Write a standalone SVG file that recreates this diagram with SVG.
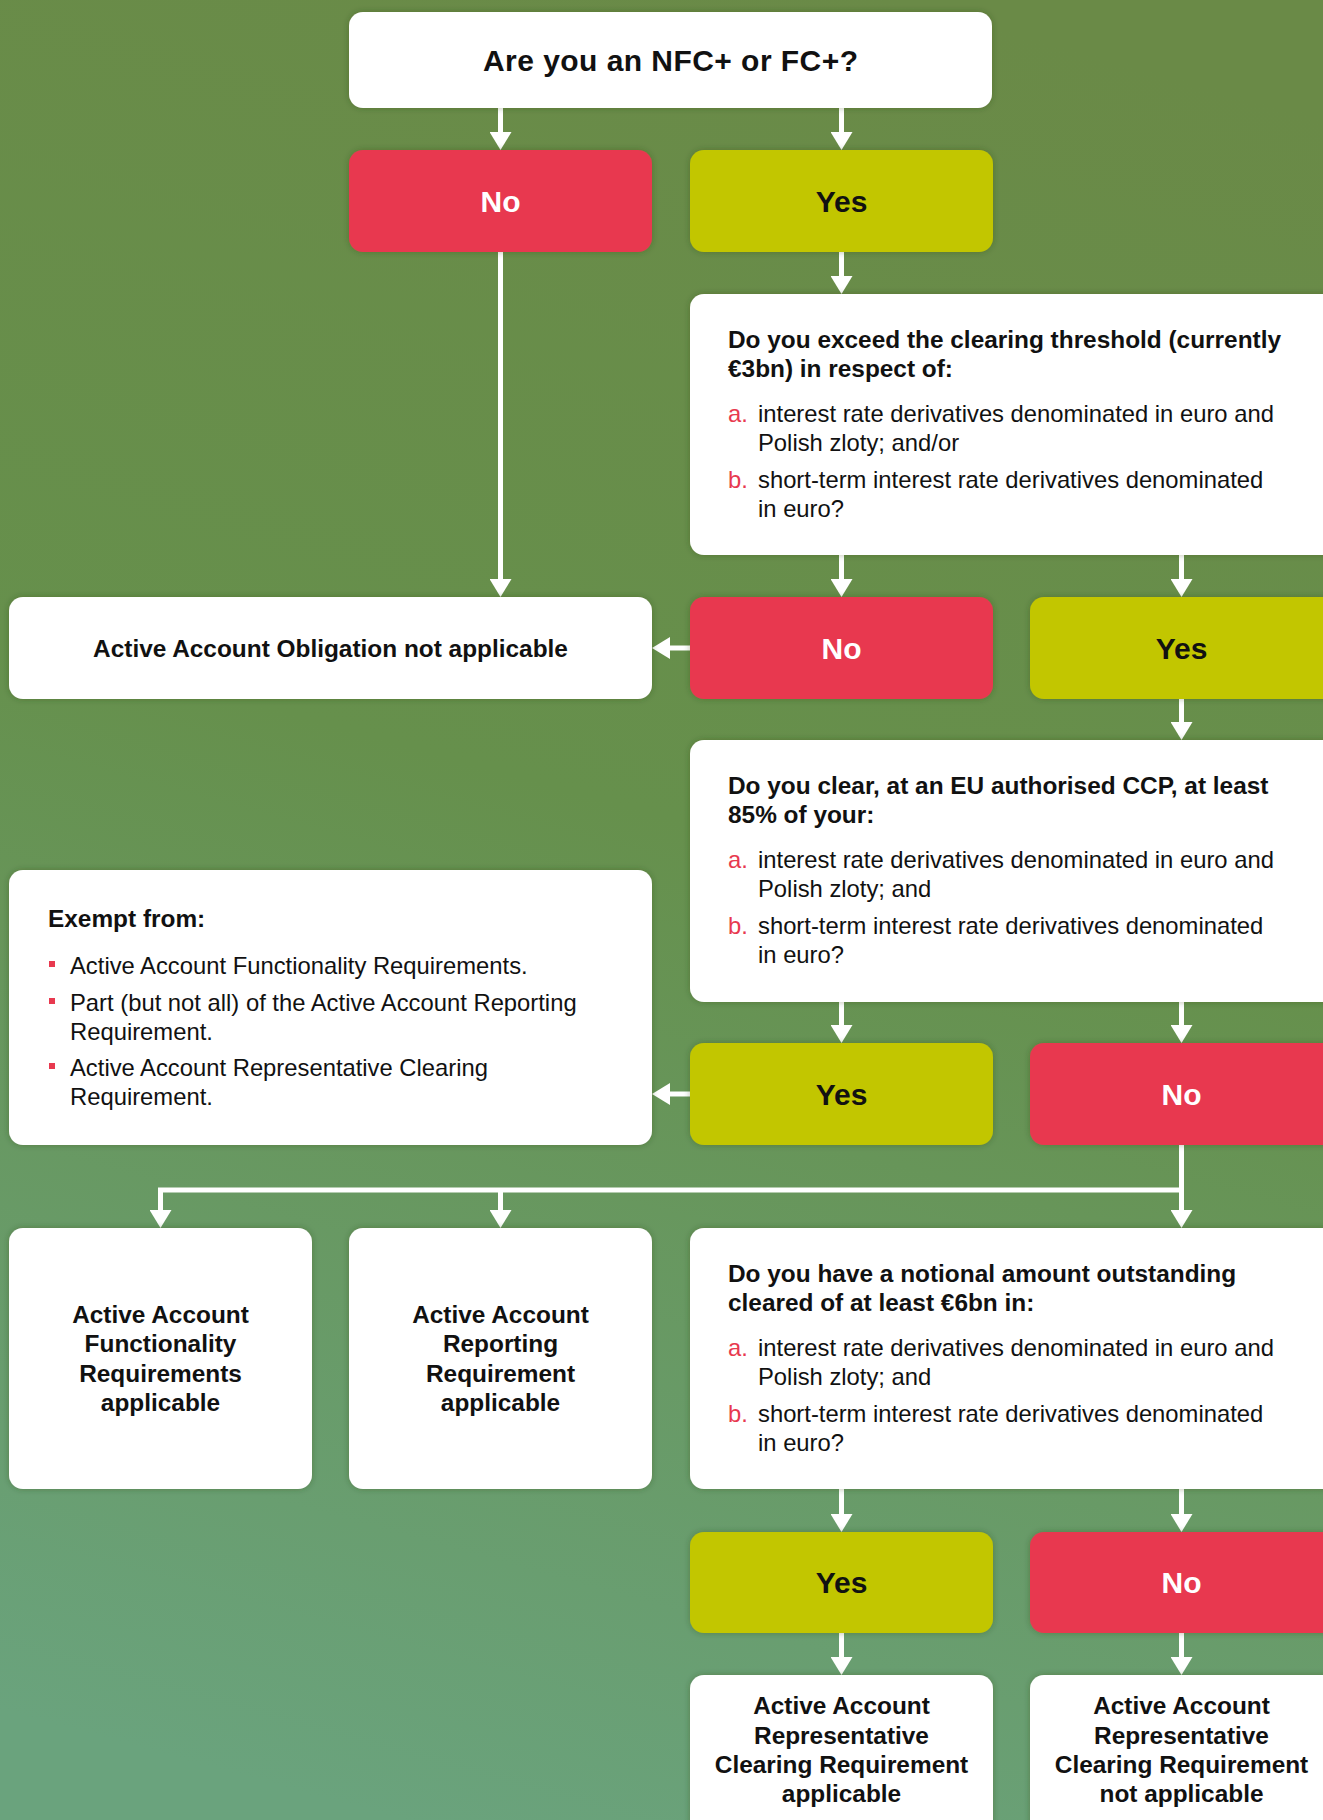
<svg xmlns="http://www.w3.org/2000/svg" width="1323" height="1820" viewBox="0 0 1323 1820">
<defs>
<linearGradient id="bg" gradientUnits="userSpaceOnUse" x1="900" y1="0" x2="400" y2="1820">
<stop offset="0" stop-color="#6a8a47"/>
<stop offset="0.45" stop-color="#66904c"/>
<stop offset="1" stop-color="#6aa37d"/>
</linearGradient>
<filter id="sh" x="-10%" y="-10%" width="120%" height="120%">
<feDropShadow dx="0" dy="0" stdDeviation="3" flood-color="#2a3a20" flood-opacity="0.35"/>
</filter>
<marker id="ah" markerUnits="userSpaceOnUse" markerWidth="18" markerHeight="22" refX="8" refY="11" orient="auto">
<path d="M0,0 L18,11 L0,22 z" fill="#ffffff"/>
</marker>
<style>
.w{fill:#ffffff;filter:url(#sh)}
.r{fill:#e8394f;filter:url(#sh)}
.y{fill:#c2c600;filter:url(#sh)}
text{font-family:"Liberation Sans",Arial,sans-serif;fill:#111111}
.t{font-size:30px;font-weight:bold;text-anchor:middle}
.tw{fill:#ffffff}
.h{font-size:24.4px;font-weight:bold}
.hc{font-size:24.4px;font-weight:bold;text-anchor:middle}
.p{font-size:23.8px}
.lab{font-size:23.8px;fill:#e8394f}
.bul{fill:#e8394f}
.c{fill:none;stroke:#ffffff;stroke-width:5;marker-end:url(#ah)}
</style>
</defs>
<rect x="0" y="0" width="1323" height="1820" fill="url(#bg)"/>

<g id="connectors">
<path class="c" d="M500.5,108 V140"/>
<path class="c" d="M841.5,108 V140"/>
<path class="c" d="M500.5,252 V587"/>
<path class="c" d="M841.5,252 V284"/>
<path class="c" d="M841.5,555 V587"/>
<path class="c" d="M1181.5,555 V587"/>
<path class="c" d="M690,648 H662"/>
<path class="c" d="M1181.5,699 V730"/>
<path class="c" d="M841.5,1002 V1033"/>
<path class="c" d="M1181.5,1002 V1033"/>
<path class="c" d="M690,1094 H662"/>
<path class="c" d="M1181.5,1145 V1218"/>
<path class="c" d="M1181.5,1190 H160.5 V1218"/>
<path class="c" d="M500.5,1190 V1218"/>
<path class="c" d="M841.5,1489 V1522"/>
<path class="c" d="M1181.5,1489 V1522"/>
<path class="c" d="M841.5,1633 V1665"/>
<path class="c" d="M1181.5,1633 V1665"/>
</g>

<g id="q0">
<rect class="w" x="349" y="12" width="643" height="96" rx="14"/>
<text class="t" x="670.5" y="71" textLength="375">Are you an NFC+ or FC+?</text>
</g>
<g id="no1">
<rect class="r" x="349" y="150" width="303" height="102" rx="14"/>
<text class="t tw" x="500.5" y="212">No</text>
</g>
<g id="yes1">
<rect class="y" x="690" y="150" width="303" height="102" rx="14"/>
<text class="t" x="841.5" y="212">Yes</text>
</g>

<g id="q1">
<rect class="w" x="690" y="294" width="680" height="261" rx="14"/>
<text class="h" x="728" y="348">Do you exceed the clearing threshold (currently</text>
<text class="h" x="728" y="377">€3bn) in respect of:</text>
<text class="lab" x="728" y="422">a.</text>
<text class="p" x="758" y="422">interest rate derivatives denominated in euro and</text>
<text class="p" x="758" y="451">Polish zloty; and/or</text>
<text class="lab" x="728" y="488">b.</text>
<text class="p" x="758" y="488">short-term interest rate derivatives denominated</text>
<text class="p" x="758" y="517">in euro?</text>
</g>

<g id="aao-na">
<rect class="w" x="9" y="597" width="643" height="102" rx="14"/>
<text class="hc" x="330.5" y="657">Active Account Obligation not applicable</text>
</g>
<g id="no2">
<rect class="r" x="690" y="597" width="303" height="102" rx="14"/>
<text class="t tw" x="841.5" y="659">No</text>
</g>
<g id="yes2">
<rect class="y" x="1030" y="597" width="330" height="102" rx="14"/>
<text class="t" x="1181.5" y="659">Yes</text>
</g>

<g id="q2">
<rect class="w" x="690" y="740" width="680" height="262" rx="14"/>
<text class="h" x="728" y="794">Do you clear, at an EU authorised CCP, at least</text>
<text class="h" x="728" y="823">85% of your:</text>
<text class="lab" x="728" y="868">a.</text>
<text class="p" x="758" y="868">interest rate derivatives denominated in euro and</text>
<text class="p" x="758" y="897">Polish zloty; and</text>
<text class="lab" x="728" y="934">b.</text>
<text class="p" x="758" y="934">short-term interest rate derivatives denominated</text>
<text class="p" x="758" y="963">in euro?</text>
</g>

<g id="exempt">
<rect class="w" x="9" y="870" width="643" height="275" rx="14"/>
<text class="h" x="48" y="927">Exempt from:</text>
<rect class="bul" x="49" y="961" width="6" height="6"/>
<text class="p" x="70" y="974">Active Account Functionality Requirements.</text>
<rect class="bul" x="49" y="998" width="6" height="6"/>
<text class="p" x="70" y="1011">Part (but not all) of the Active Account Reporting</text>
<text class="p" x="70" y="1040">Requirement.</text>
<rect class="bul" x="49" y="1063" width="6" height="6"/>
<text class="p" x="70" y="1076">Active Account Representative Clearing</text>
<text class="p" x="70" y="1105">Requirement.</text>
</g>
<g id="yes3">
<rect class="y" x="690" y="1043" width="303" height="102" rx="14"/>
<text class="t" x="841.5" y="1105">Yes</text>
</g>
<g id="no3">
<rect class="r" x="1030" y="1043" width="330" height="102" rx="14"/>
<text class="t tw" x="1181.5" y="1105">No</text>
</g>

<g id="func">
<rect class="w" x="9" y="1228" width="303" height="261" rx="14"/>
<text class="hc" x="160.5" y="1323">Active Account</text>
<text class="hc" x="160.5" y="1352">Functionality</text>
<text class="hc" x="160.5" y="1382">Requirements</text>
<text class="hc" x="160.5" y="1411">applicable</text>
</g>
<g id="report">
<rect class="w" x="349" y="1228" width="303" height="261" rx="14"/>
<text class="hc" x="500.5" y="1323">Active Account</text>
<text class="hc" x="500.5" y="1352">Reporting</text>
<text class="hc" x="500.5" y="1382">Requirement</text>
<text class="hc" x="500.5" y="1411">applicable</text>
</g>
<g id="q3">
<rect class="w" x="690" y="1228" width="680" height="261" rx="14"/>
<text class="h" x="728" y="1282">Do you have a notional amount outstanding</text>
<text class="h" x="728" y="1311">cleared of at least €6bn in:</text>
<text class="lab" x="728" y="1356">a.</text>
<text class="p" x="758" y="1356">interest rate derivatives denominated in euro and</text>
<text class="p" x="758" y="1385">Polish zloty; and</text>
<text class="lab" x="728" y="1422">b.</text>
<text class="p" x="758" y="1422">short-term interest rate derivatives denominated</text>
<text class="p" x="758" y="1451">in euro?</text>
</g>

<g id="yes4">
<rect class="y" x="690" y="1532" width="303" height="101" rx="14"/>
<text class="t" x="841.5" y="1593">Yes</text>
</g>
<g id="no4">
<rect class="r" x="1030" y="1532" width="330" height="101" rx="14"/>
<text class="t tw" x="1181.5" y="1593">No</text>
</g>

<g id="rep-app">
<rect class="w" x="690" y="1675" width="303" height="200" rx="14"/>
<text class="hc" x="841.5" y="1714">Active Account</text>
<text class="hc" x="841.5" y="1744">Representative</text>
<text class="hc" x="841.5" y="1773">Clearing Requirement</text>
<text class="hc" x="841.5" y="1802">applicable</text>
</g>
<g id="rep-na">
<rect class="w" x="1030" y="1675" width="330" height="200" rx="14"/>
<text class="hc" x="1181.5" y="1714">Active Account</text>
<text class="hc" x="1181.5" y="1744">Representative</text>
<text class="hc" x="1181.5" y="1773">Clearing Requirement</text>
<text class="hc" x="1181.5" y="1802">not applicable</text>
</g>
</svg>
